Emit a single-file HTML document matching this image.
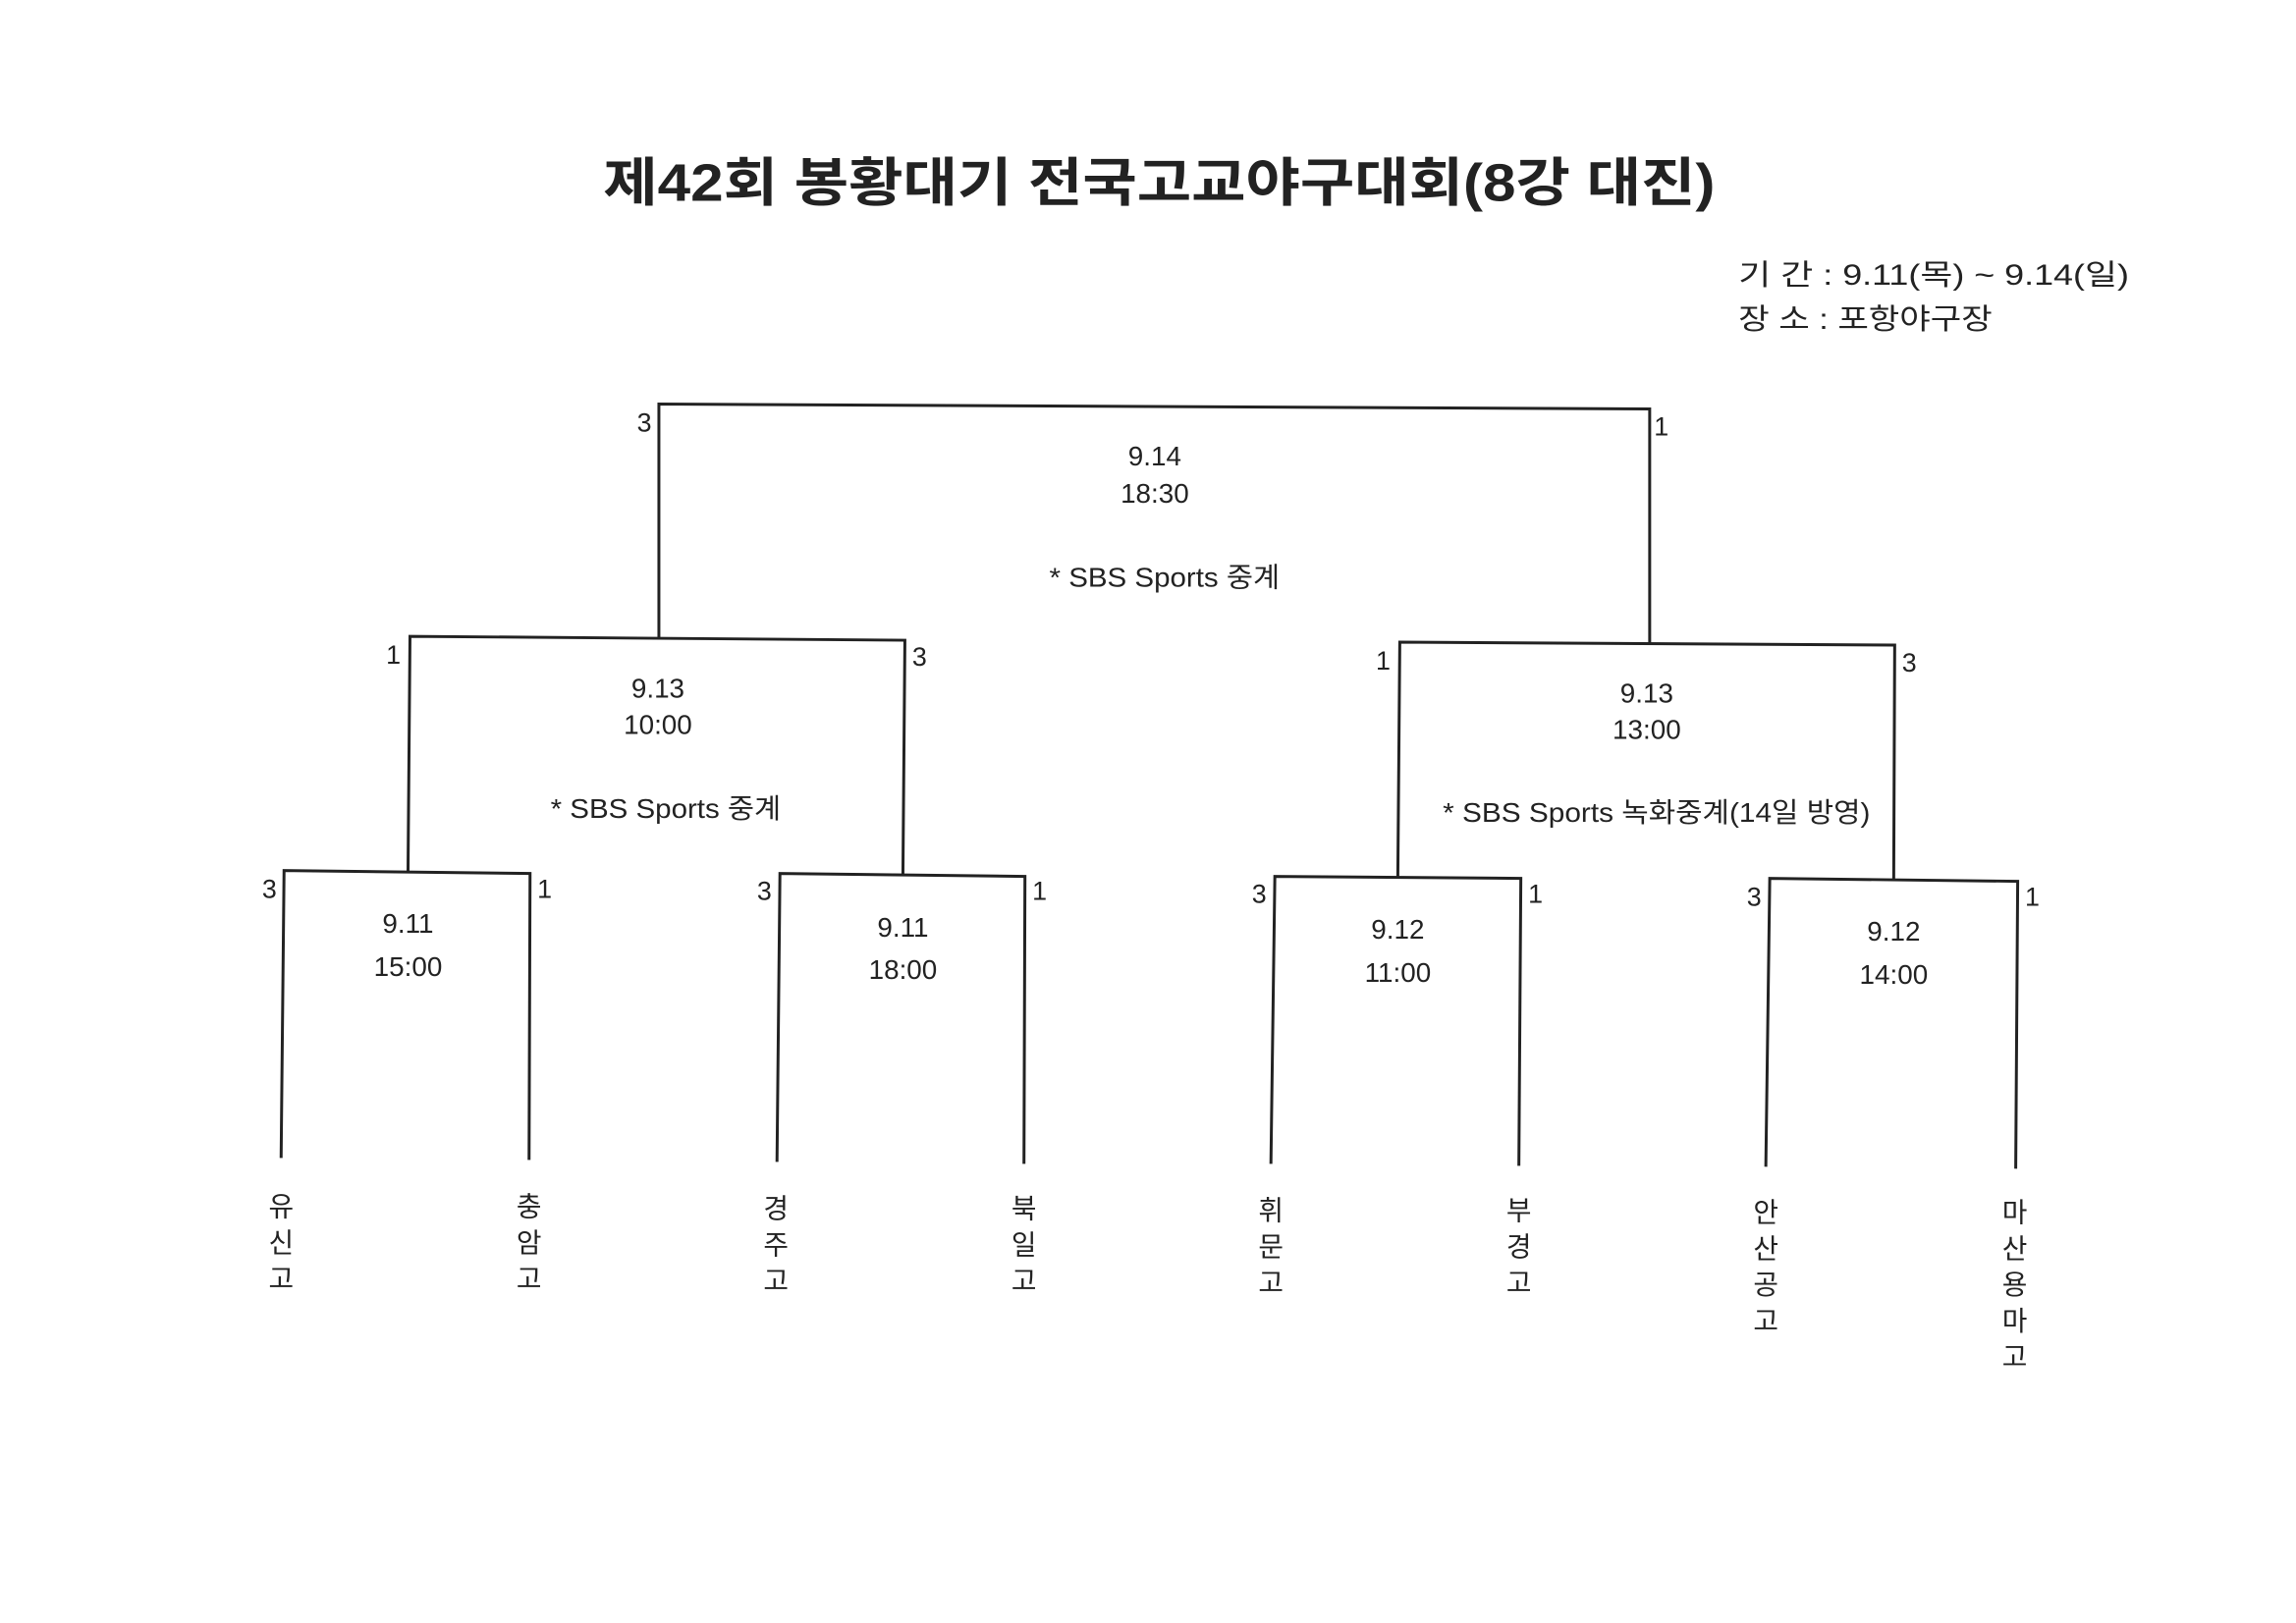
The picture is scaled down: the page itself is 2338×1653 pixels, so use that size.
<!DOCTYPE html>
<html><head><meta charset="utf-8"><style>
html,body{margin:0;padding:0;background:#fff;}
svg{display:block;}
text{font-family:"Liberation Sans","Noto Sans CJK KR",sans-serif;fill:#222;}
</style></head><body>
<svg width="2338" height="1653" viewBox="0 0 2338 1653" xmlns="http://www.w3.org/2000/svg">
<g transform="scale(0.994)">
<g stroke="#222" stroke-width="3" fill="none" stroke-linecap="square">
<polyline points="675,652 675,414 1690,419 1690,658"/>
<polyline points="418,892 420,652 927,656 925,895"/>
<polyline points="1432,898 1434,658 1941,661 1940,901"/>
<polyline points="288,1185 291,892 543,895 542,1187"/>
<polyline points="796,1189 799,895 1050,898 1049,1191"/>
<polyline points="1302,1191 1306,898 1558,900 1556,1193"/>
<polyline points="1809,1194 1813,900 2067,903 2065,1196"/>
</g>
<text x="618" y="206" font-size="54" font-weight="bold" textLength="1139" lengthAdjust="spacingAndGlyphs">제42회 봉황대기 전국고교야구대회(8강 대진)</text>
<text x="1781" y="292" font-size="30" textLength="400" lengthAdjust="spacingAndGlyphs">기 간 :  9.11(목) ~ 9.14(일)</text>
<text x="1781" y="337" font-size="30" textLength="260" lengthAdjust="spacingAndGlyphs">장 소 : 포항야구장</text>
<g font-size="28" text-anchor="middle">
<text x="1183" y="477">9.14</text><text x="1183" y="515">18:30</text>
<text x="1193" y="601" textLength="236" lengthAdjust="spacingAndGlyphs">* SBS Sports 중계</text>
<text x="674" y="715">9.13</text><text x="674" y="752">10:00</text>
<text x="682" y="838" textLength="236" lengthAdjust="spacingAndGlyphs">* SBS Sports 중계</text>
<text x="1687" y="720">9.13</text><text x="1687" y="757">13:00</text>
<text x="1697" y="842" textLength="438" lengthAdjust="spacingAndGlyphs">* SBS Sports 녹화중계(14일 방영)</text>
<text x="418" y="956">9.11</text><text x="418" y="1000">15:00</text>
<text x="925" y="960">9.11</text><text x="925" y="1003">18:00</text>
<text x="1432" y="962">9.12</text><text x="1432" y="1006">11:00</text>
<text x="1940" y="964">9.12</text><text x="1940" y="1008">14:00</text>
</g>
<g font-size="27" text-anchor="middle">
<text x="660" y="442">3</text><text x="1702" y="446">1</text>
<text x="403" y="680">1</text><text x="942" y="682">3</text>
<text x="1417" y="686">1</text><text x="1956" y="688">3</text>
<text x="276" y="920">3</text><text x="558" y="920">1</text>
<text x="783" y="922">3</text><text x="1065" y="922">1</text>
<text x="1290" y="925">3</text><text x="1573" y="925">1</text>
<text x="1797" y="928">3</text><text x="2082" y="928">1</text>
</g>
<g font-size="28" text-anchor="middle">
<text x="288" y="1246">유</text><text x="288" y="1283">신</text><text x="288" y="1320">고</text>
<text x="542" y="1246">충</text><text x="542" y="1283">암</text><text x="542" y="1320">고</text>
<text x="795" y="1248">경</text><text x="795" y="1285">주</text><text x="795" y="1322">고</text>
<text x="1049" y="1248">북</text><text x="1049" y="1285">일</text><text x="1049" y="1322">고</text>
<text x="1302" y="1250">휘</text><text x="1302" y="1287">문</text><text x="1302" y="1324">고</text>
<text x="1556" y="1250">부</text><text x="1556" y="1287">경</text><text x="1556" y="1324">고</text>
<text x="1809" y="1252">안</text><text x="1809" y="1289">산</text><text x="1809" y="1326">공</text><text x="1809" y="1363">고</text>
<text x="2064" y="1252">마</text><text x="2064" y="1289">산</text><text x="2064" y="1326">용</text><text x="2064" y="1363">마</text><text x="2064" y="1400">고</text>
</g>
</g>
</svg>
</body></html>
